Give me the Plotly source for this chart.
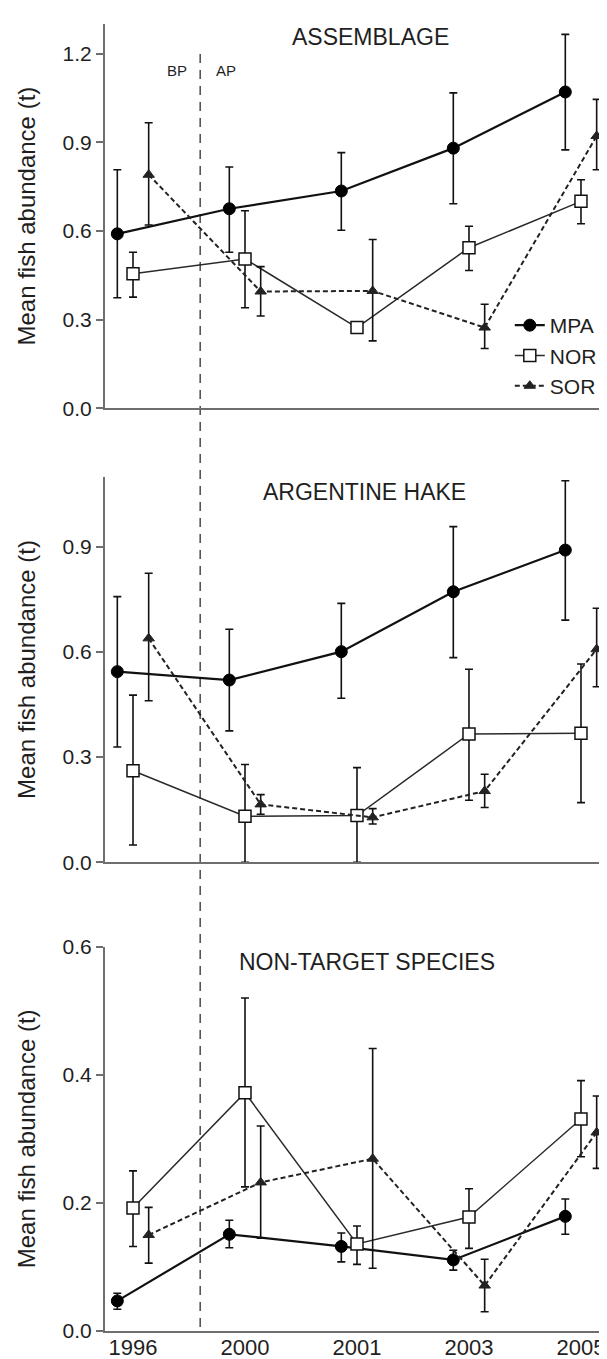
import plotly.graph_objects as go

# ---------------- data ----------------
YEARS = ["1996", "2000", "2001", "2003", "2005"]
SERIES = ["MPA", "NOR", "SOR"]
PANEL_TITLES = ["ASSEMBLAGE", "ARGENTINE HAKE", "NON-TARGET SPECIES"]

# Assemblage
ASM_MPA = [0.59, 0.675, 0.735, 0.88, 1.07]
ASM_MPA_HI = [0.807, 0.816, 0.865, 1.067, 1.265]
ASM_MPA_LO = [0.374, 0.528, 0.602, 0.692, 0.874]
ASM_NOR = [0.455, 0.505, 0.273, 0.543, 0.70]
ASM_NOR_HI = [0.528, 0.668, 0.29, 0.616, 0.773]
ASM_NOR_LO = [0.376, 0.340, 0.255, 0.466, 0.624]
ASM_SOR = [0.79, 0.395, 0.397, 0.273, 0.921]
ASM_SOR_HI = [0.966, 0.479, 0.571, 0.352, 1.045]
ASM_SOR_LO = [0.620, 0.312, 0.228, 0.202, 0.807]

# Argentine hake
HAK_MPA = [0.544, 0.52, 0.601, 0.772, 0.891]
HAK_MPA_HI = [0.758, 0.665, 0.739, 0.958, 1.089]
HAK_MPA_LO = [0.329, 0.375, 0.468, 0.584, 0.691]
HAK_NOR = [0.261, 0.131, 0.133, 0.366, 0.368]
HAK_NOR_HI = [0.477, 0.279, 0.270, 0.551, 0.566]
HAK_NOR_LO = [0.049, 0.0, 0.0, 0.177, 0.170]
HAK_SOR = [0.639, 0.165, 0.128, 0.203, 0.608]
HAK_SOR_HI = [0.825, 0.193, 0.153, 0.251, 0.725]
HAK_SOR_LO = [0.461, 0.137, 0.109, 0.156, 0.501]

# Non-target species
NTS_MPA = [0.047, 0.151, 0.132, 0.111, 0.179]
NTS_MPA_HI = [0.059, 0.173, 0.153, 0.126, 0.206]
NTS_MPA_LO = [0.034, 0.130, 0.108, 0.095, 0.151]
NTS_NOR = [0.192, 0.372, 0.136, 0.178, 0.331]
NTS_NOR_HI = [0.250, 0.520, 0.164, 0.222, 0.391]
NTS_NOR_LO = [0.132, 0.225, 0.104, 0.129, 0.272]
NTS_SOR = [0.150, 0.232, 0.269, 0.071, 0.310]
NTS_SOR_HI = [0.193, 0.320, 0.441, 0.112, 0.367]
NTS_SOR_LO = [0.106, 0.145, 0.098, 0.030, 0.254]

PANELS = [
    [(ASM_MPA, ASM_MPA_HI, ASM_MPA_LO), (ASM_NOR, ASM_NOR_HI, ASM_NOR_LO), (ASM_SOR, ASM_SOR_HI, ASM_SOR_LO)],
    [(HAK_MPA, HAK_MPA_HI, HAK_MPA_LO), (HAK_NOR, HAK_NOR_HI, HAK_NOR_LO), (HAK_SOR, HAK_SOR_HI, HAK_SOR_LO)],
    [(NTS_MPA, NTS_MPA_HI, NTS_MPA_LO), (NTS_NOR, NTS_NOR_HI, NTS_NOR_LO), (NTS_SOR, NTS_SOR_HI, NTS_SOR_LO)],
]
Y_RANGES = [[0, 1.3], [0, 1.1], [0, 0.6]]
Y_DTICK = [0.3, 0.3, 0.2]
PERIOD_SPLIT = 0.6  # boundary between before (BP) and after (AP) protection

# ---------------- styles ----------------
FONT = "Liberation Sans, Arial, sans-serif"
INK = "#1f1f1f"
AXIS_COL = "#6e6e6e"
OFFSETS = {"MPA": -0.14, "NOR": 0.0, "SOR": 0.14}
STYLE = {
    "MPA": dict(line=dict(color="#111111", width=2.2),
                marker=dict(symbol="circle", size=12, color="#000000",
                            line=dict(color="#000000", width=1))),
    "NOR": dict(line=dict(color="#2a2a2a", width=1.5),
                marker=dict(symbol="square", size=12, color="#ffffff",
                            line=dict(color="#111111", width=1.5))),
    "SOR": dict(line=dict(color="#222222", width=2, dash="5px,3px"),
                marker=dict(symbol="triangle-up", size=10, color="#222222",
                            line=dict(color="#222222", width=1))),
}
DOMAINS = [[0.706, 1.0], [0.3587, 0.6535], [0.0, 0.294]]

fig = go.Figure()
for p, panel in enumerate(PANELS):
    xa = "x" if p == 0 else f"x{p+1}"
    ya = "y" if p == 0 else f"y{p+1}"
    for s, name in enumerate(SERIES):
        mean, hi, lo = panel[s]
        xs = [i + OFFSETS[name] for i in range(len(YEARS))]
        fig.add_trace(go.Scatter(
            x=xs, y=mean, mode="lines+markers", name=name,
            legendgroup=name, showlegend=(p == 0),
            xaxis=xa, yaxis=ya, cliponaxis=False,
            error_y=dict(type="data", symmetric=False,
                         array=[h - m for h, m in zip(hi, mean)],
                         arrayminus=[m - l for m, l in zip(mean, lo)],
                         color="#111111", thickness=1.6, width=4),
            **STYLE[name],
        ))

layout = dict(
    width=607, height=1359,
    margin=dict(l=97, r=4, t=10, b=36),
    paper_bgcolor="white", plot_bgcolor="white",
    font=dict(family=FONT, color=INK, size=22),
    showlegend=True,
    legend=dict(x=0.80, y=0.785, xanchor="left", yanchor="top",
                bgcolor="rgba(0,0,0,0)", font=dict(size=21, family=FONT),
                itemwidth=30, tracegroupgap=0),
)
for p in range(3):
    xk = "xaxis" if p == 0 else f"xaxis{p+1}"
    yk = "yaxis" if p == 0 else f"yaxis{p+1}"
    ya = "y" if p == 0 else f"y{p+1}"
    layout[xk] = dict(
        domain=[0, 1], anchor=ya, range=[-0.25, 4.268],
        showline=True, linecolor=AXIS_COL, linewidth=2, showgrid=False,
        zeroline=False, ticks="", ticklen=0, ticklabelstandoff=-4,
        tickmode="array", tickvals=list(range(len(YEARS))), ticktext=YEARS,
        showticklabels=(p == 2), tickfont=dict(size=22, color=INK),
    )
    if p > 0:
        layout[xk]["matches"] = "x"
    layout[yk] = dict(
        domain=DOMAINS[p], anchor="x" if p == 0 else f"x{p+1}",
        range=Y_RANGES[p], dtick=Y_DTICK[p], tick0=0, tickformat=".1f",
        showline=True, linecolor=AXIS_COL, linewidth=2, showgrid=False,
        zeroline=False, ticks="outside", ticklen=7, tickwidth=2, tickcolor=AXIS_COL,
        tickfont=dict(size=21, color=INK),
        title=dict(text="Mean fish abundance (t)", font=dict(size=24, color=INK), standoff=20),
    )
fig.update_layout(**layout)

# panel titles
TITLE_POS = [(0.524, 0.966), (0.512, 0.961), (0.518, 0.961)]
for p, t in enumerate(PANEL_TITLES):
    xr = "x domain" if p == 0 else f"x{p+1} domain"
    yr = "y domain" if p == 0 else f"y{p+1} domain"
    fig.add_annotation(text=t, xref=xr, yref=yr, x=TITLE_POS[p][0], y=TITLE_POS[p][1],
                       showarrow=False, xanchor="center", yanchor="middle",
                       font=dict(size=23, color=INK, family=FONT))

# BP / AP labels
fig.add_annotation(text="BP", xref="x", yref="y", x=0.39, y=1.143, showarrow=False,
                   font=dict(size=15, color=INK, family=FONT))
fig.add_annotation(text="AP", xref="x", yref="y", x=0.83, y=1.143, showarrow=False,
                   font=dict(size=15, color=INK, family=FONT))

# vertical divider spanning all panels
fig.add_shape(type="line", xref="x3", yref="paper", x0=PERIOD_SPLIT, x1=PERIOD_SPLIT,
              y0=0.003, y1=0.982, line=dict(color="#555555", width=1.6, dash="9px,7px"),
              layer="below")

fig.write_html("out.html")
